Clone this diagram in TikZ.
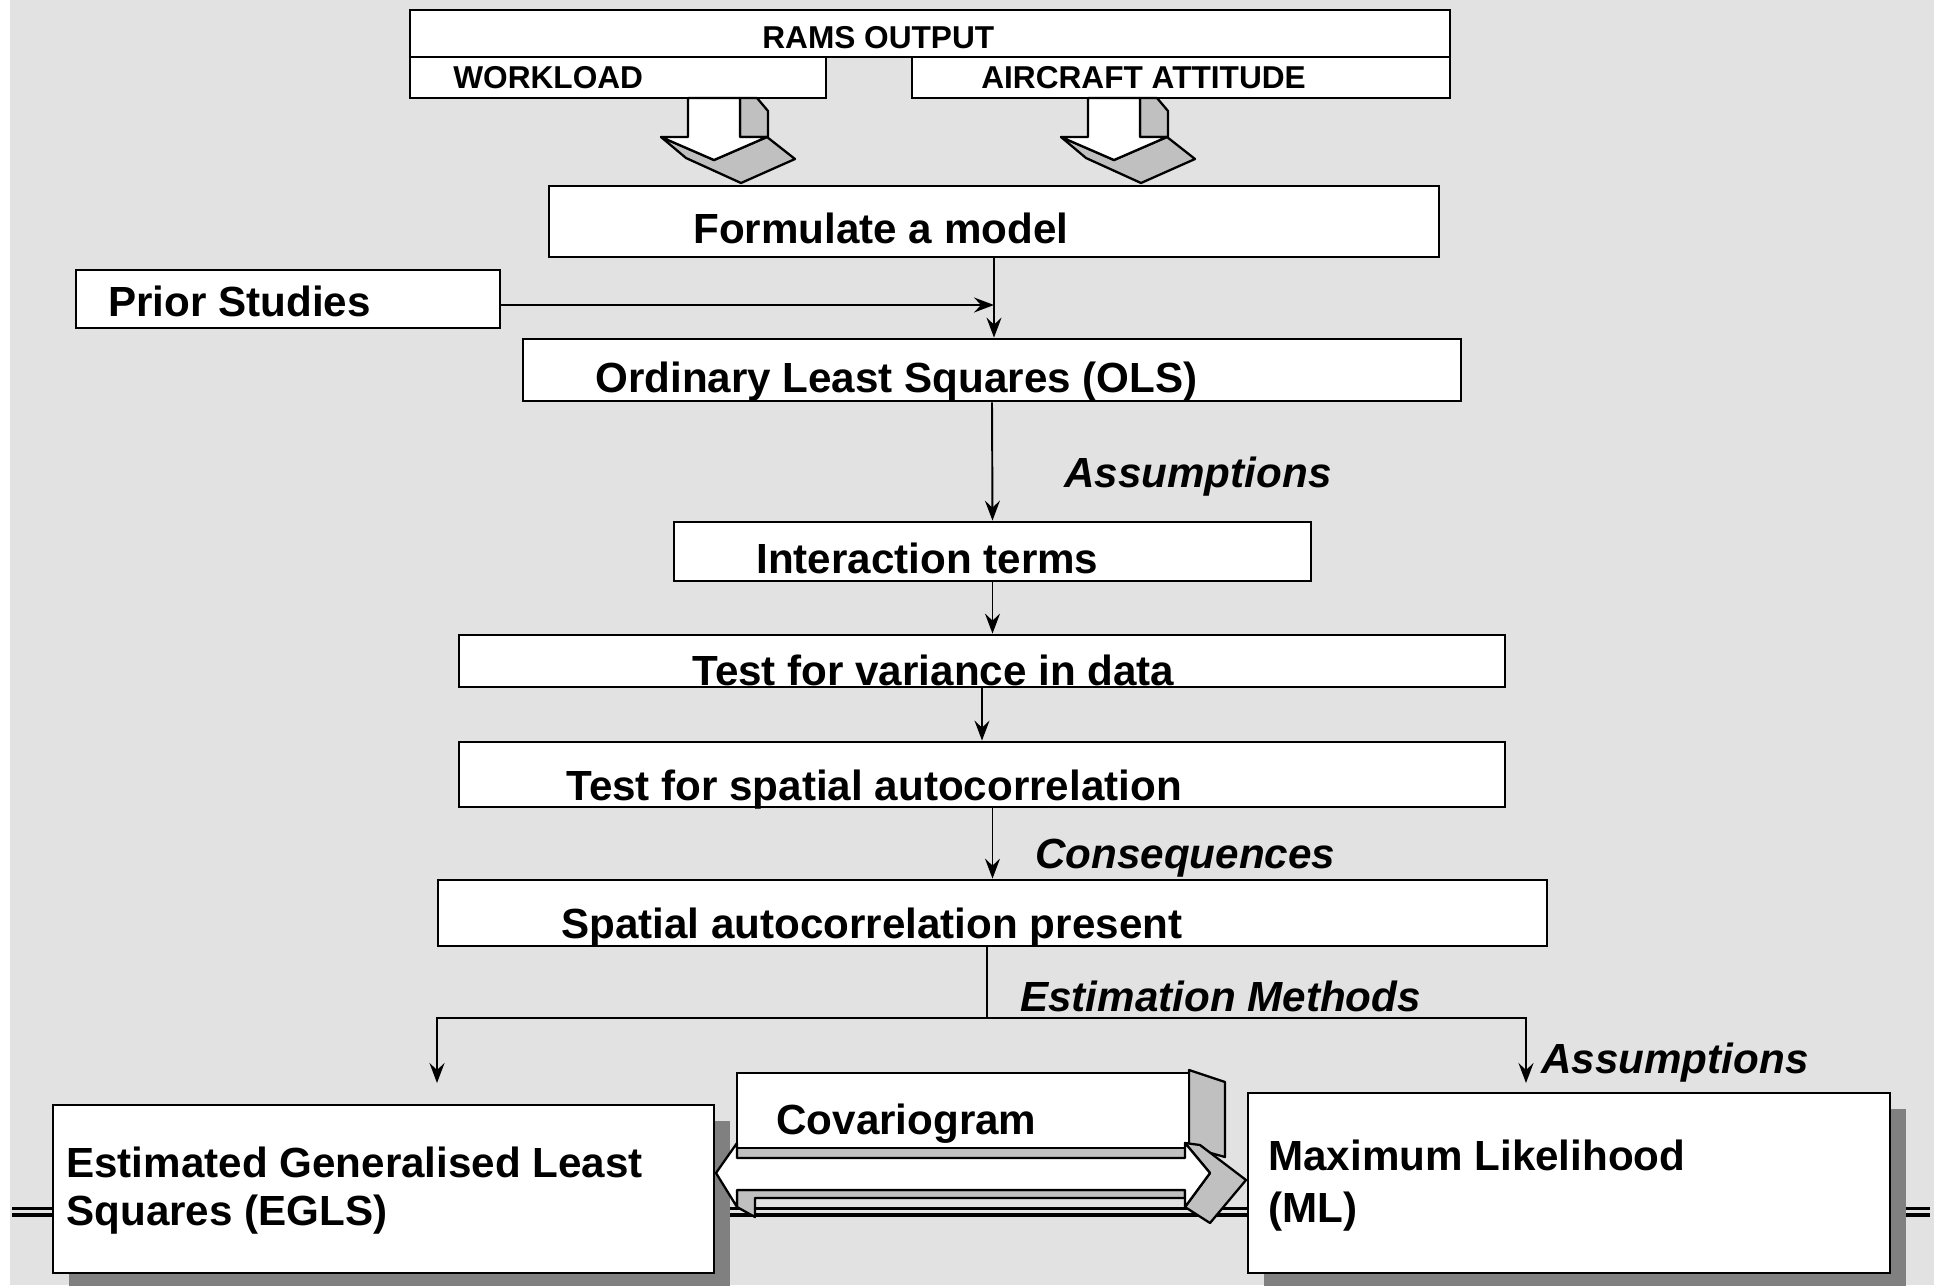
\documentclass[tikz,border=0pt]{standalone}
\usepackage{fontspec}
\setmainfont{Liberation Sans}
\usepackage{tikz}
\usetikzlibrary{arrows.meta, positioning, calc, shadows}
\definecolor{slidebg}{RGB}{226,226,226}
\definecolor{sidegrey}{RGB}{192,192,192}
\definecolor{shadowgrey}{RGB}{128,128,128}
\tikzset{
  box/.style 2 args={rectangle, draw=black, fill=white, line width=1.6pt,
    minimum width=#1*0.02cm, minimum height=#2*0.02cm, inner sep=0pt},
  shadowed/.style={drop shadow={shadow xshift=0.32cm, shadow yshift=-0.32cm,
    fill=shadowgrey, opacity=1}},
  txt/.style={anchor=base west, inner sep=0pt, align=left,
    font=\bfseries\fontsize{24}{27.2}\selectfont},
  captxt/.style={anchor=base west, inner sep=0pt,
    font=\bfseries\fontsize{18}{22}\selectfont},
  labtxt/.style={anchor=base west, inner sep=0pt,
    font=\bfseries\itshape\fontsize{24}{28}\selectfont},
  arrow/.style={-{Stealth[length=0.4cm,width=0.3cm,inset=0.14cm]}, line width=1.1pt},
  line/.style={line width=1.1pt},
  solid3d/.style={draw=black, line width=1.3pt, line join=round}
}

\begin{document}
\begin{tikzpicture}[x=0.02cm, y=-0.02cm]
  \useasboundingbox (0,0) rectangle (1934,1285);
  % slide background and template rule
  \fill[white] (0,0) rectangle (1934,1285);
  \fill[slidebg] (10,0) rectangle (1934,1285);
  \draw[line width=1.7pt] (12,1208.5) -- (1930,1208.5);
  \draw[line width=2.2pt] (12,1215) -- (1930,1215);

  % data sources
  \node[box={1040}{47}] (rams) at (930,33.5) {};
  \node[box={416}{41}] (work) at (618,77.5) {};
  \node[box={538}{41}] (att) at (1181,77.5) {};
  \node[captxt] (ramstxt) at (762,48) {RAMS OUTPUT};
  \node[captxt] (worktxt) at (453,88) {WORKLOAD};
  \node[captxt] (atttxt) at (981,88) {AIRCRAFT ATTITUDE};

  % 3d block arrows
  \foreach \dx in {0,400}{
    \begin{scope}[shift={(\dx,0)}]
      \filldraw[solid3d, fill=sidegrey] (740,98) -- (757,98) -- (768,111) -- (768,137) -- (740,137) -- cycle;
      \filldraw[solid3d, fill=sidegrey] (661,137) -- (686,158) -- (741,183) -- (795,159) -- (767,137) -- (714,160) -- cycle;
      \filldraw[solid3d, fill=white] (688,98) -- (688,137) -- (661,137) -- (714,160) -- (767,137) -- (740,137) -- (740,98) -- cycle;
    \end{scope}
  }

  % main flow
  \node[box={890}{71}] (model) at (994,221.5) {};
  \node[box={424}{58}] (prior) at (288,299) {};
  \node[box={938}{62}] (ols) at (992,370) {};
  \node[box={637}{59}] (inter) at (992.5,551.5) {};
  \node[box={1046}{52}] (var) at (982,661) {};
  \node[box={1046}{65}] (sptest) at (982,774.5) {};
  \node[box={1109}{66}] (present) at (992.5,913) {};

  \node[txt] (modeltxt) at (693,243) {Formulate a model};
  \node[txt] (priortxt) at (108,316) {Prior Studies};
  \node[txt] (olstxt) at (595,392) {Ordinary Least Squares (OLS)};
  \node[txt] (intertxt) at (756,573) {Interaction terms};
  \node[txt] (vartxt) at (692,685) {Test for variance in data};
  \node[txt] (sptesttxt) at (566,800) {Test for spatial autocorrelation};
  \node[txt] (presenttxt) at (561,938) {Spatial autocorrelation present};

  \node[labtxt] (assume) at (1064,487) {Assumptions};
  \node[labtxt] (conseq) at (1035,868) {Consequences};
  \node[labtxt] (estim) at (1020,1011) {Estimation Methods};
  \node[labtxt] (assume2) at (1541,1073) {Assumptions};

  \draw[arrow] (model.south) -- (model.south |- ols.north);
  \draw[arrow] ([yshift=-0.12cm]prior.east) -- ([yshift=-0.12cm]prior.east -| model.south);
  \draw[arrow] (ols.south) -- (inter.north);
  \draw[arrow] (inter.south) -- (inter.south |- var.north);
  \draw[arrow] (var.south) -- (sptest.north);
  \draw[arrow] (sptest.south -| present.north) -- (present.north);

  % estimation methods
  \coordinate (split) at (987,1018);
  \coordinate (egltip) at (437,1083);
  \coordinate (mltip) at (1526,1083);
  \draw[line] (present.south -| split) -- (split);
  \draw[arrow] (split) -| (egltip);
  \draw[arrow] (split) -| (mltip);

  \node[box={661}{168}, shadowed] (egls) at (383.5,1189) {};
  \node[box={642}{180}, shadowed] (ml) at (1569,1183) {};
  \node[txt] (eglstxt) at (66,1225) {Estimated Generalised Least\\Squares (EGLS)};
  \node[txt] (mltxt) at (1268,1222) {Maximum Likelihood\\[2.3pt](ML)};

  % covariogram link
  \filldraw[solid3d, fill=sidegrey] (1189,1070) -- (1225,1082) -- (1225,1157) -- (1189,1147) -- cycle;
  \node[box={452}{75}] (cov) at (963,1110.5) {};
  \filldraw[solid3d, fill=sidegrey] (737,1148) rectangle (1185,1158);
  \filldraw[solid3d, fill=sidegrey] (737,1190) -- (737,1207) -- (755,1217) -- (755,1198) -- (1185,1198) -- (1185,1190) -- cycle;
  \filldraw[solid3d, fill=sidegrey] (1185,1143) -- (1200,1145) -- (1246,1180) -- (1210,1223) -- (1185,1207) -- (1210,1173) -- cycle;
  \filldraw[solid3d, fill=white] (716,1173) -- (737,1143) -- (737,1158) -- (1185,1158) -- (1185,1143) -- (1210,1173)
    -- (1185,1207) -- (1185,1190) -- (737,1190) -- (737,1207) -- cycle;
  \node[txt] (covtxt) at (776,1134) {Covariogram};
\end{tikzpicture}
\end{document}
